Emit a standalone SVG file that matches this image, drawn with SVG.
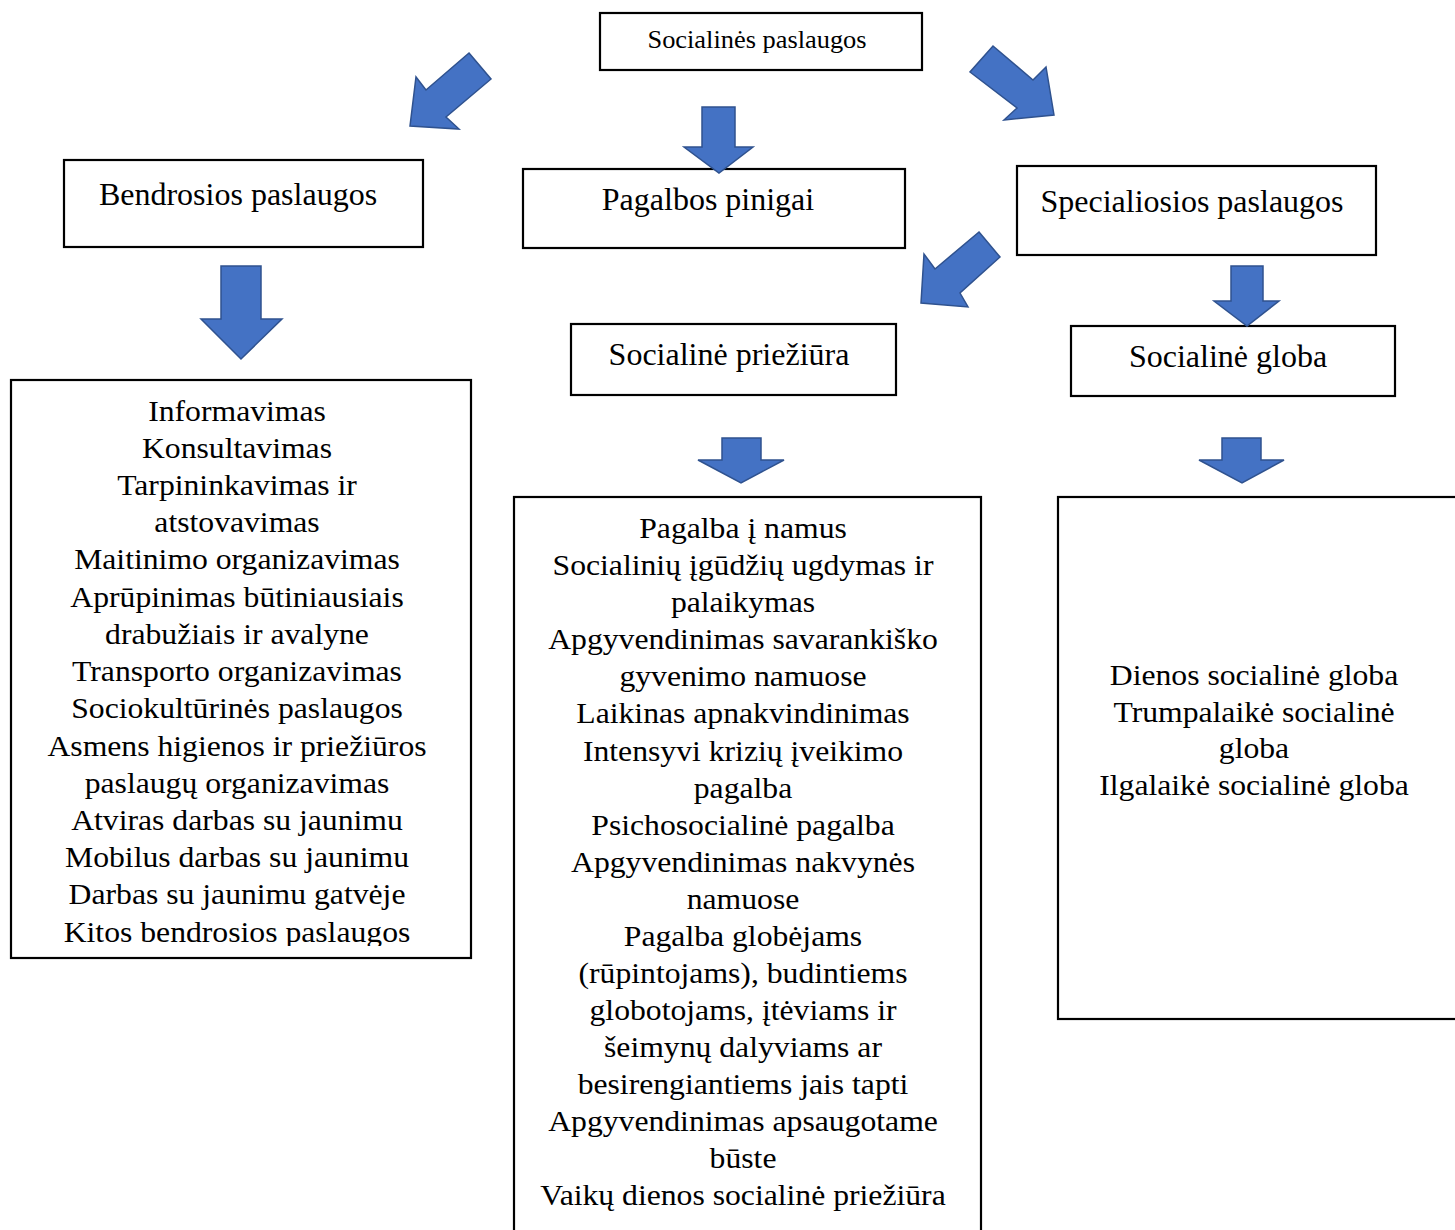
<svg xmlns="http://www.w3.org/2000/svg" width="1455" height="1230" viewBox="0 0 1455 1230">
<style>
.box{fill:#fff;stroke:#000;stroke-width:2.2}
.arr{fill:#4472C4;stroke:#2F528F;stroke-width:1.5;stroke-linejoin:miter}
text{font-family:"Liberation Serif","Times New Roman",serif;fill:#000;text-anchor:middle}
.t{font-size:32px}
.l{font-size:30px}
</style>
<defs>
<clipPath id="clipLeft"><rect x="0" y="380" width="480" height="566"/></clipPath>
</defs>
<rect width="1455" height="1230" fill="#fff"/>

<g id="n-root">
<rect class="box" x="600" y="13" width="322" height="57"/>
<g transform="translate(757 0) scale(1.056 1)"><text x="0" y="48" style="font-size:25px">Socialinės paslaugos</text></g>
</g>

<g id="n-bendrosios">
<rect class="box" x="64" y="160" width="359" height="87"/>
<text class="t" x="238" y="205">Bendrosios paslaugos</text>
</g>

<g id="n-pinigai">
<rect class="box" x="523" y="169" width="382" height="79"/>
<text class="t" x="708" y="210">Pagalbos pinigai</text>
</g>

<g id="n-specialiosios">
<rect class="box" x="1017" y="166" width="359" height="89"/>
<text class="t" x="1192" y="212">Specialiosios paslaugos</text>
</g>

<g id="n-prieziura">
<rect class="box" x="571" y="324" width="325" height="71"/>
<text class="t" x="729" y="365">Socialinė priežiūra</text>
</g>

<g id="n-globa">
<rect class="box" x="1071" y="326" width="324" height="70"/>
<text class="t" x="1228" y="367">Socialinė globa</text>
</g>

<g id="n-list-bendrosios">
<rect class="box" x="11" y="380" width="460" height="578"/>
<g clip-path="url(#clipLeft)">
<g transform="translate(237 0) scale(1.056 1)" class="l">
<text class="l" x="0" y="420.7">Informavimas</text>
<text class="l" x="0" y="457.9">Konsultavimas</text>
<text class="l" x="0" y="495.1">Tarpininkavimas ir</text>
<text class="l" x="0" y="532.3">atstovavimas</text>
<text class="l" x="0" y="569.5">Maitinimo organizavimas</text>
<text class="l" x="0" y="606.8">Aprūpinimas būtiniausiais</text>
<text class="l" x="0" y="644.0">drabužiais ir avalyne</text>
<text class="l" x="0" y="681.2">Transporto organizavimas</text>
<text class="l" x="0" y="718.4">Sociokultūrinės paslaugos</text>
<text class="l" x="0" y="755.6">Asmens higienos ir priežiūros</text>
<text class="l" x="0" y="792.8">paslaugų organizavimas</text>
<text class="l" x="0" y="830.0">Atviras darbas su jaunimu</text>
<text class="l" x="0" y="867.2">Mobilus darbas su jaunimu</text>
<text class="l" x="0" y="904.5">Darbas su jaunimu gatvėje</text>
<text class="l" x="0" y="941.7">Kitos bendrosios paslaugos</text>
</g>
</g>
</g>

<g id="n-list-prieziura">
<rect class="box" x="514" y="497" width="467" height="800"/>
<g transform="translate(743 0) scale(1.056 1)">
<text class="l" x="0" y="538.3">Pagalba į namus</text>
<text class="l" x="0" y="575.3">Socialinių įgūdžių ugdymas ir</text>
<text class="l" x="0" y="612.4">palaikymas</text>
<text class="l" x="0" y="649.4">Apgyvendinimas savarankiško</text>
<text class="l" x="0" y="686.5">gyvenimo namuose</text>
<text class="l" x="0" y="723.5">Laikinas apnakvindinimas</text>
<text class="l" x="0" y="760.6">Intensyvi krizių įveikimo</text>
<text class="l" x="0" y="797.6">pagalba</text>
<text class="l" x="0" y="834.7">Psichosocialinė pagalba</text>
<text class="l" x="0" y="871.7">Apgyvendinimas nakvynės</text>
<text class="l" x="0" y="908.8">namuose</text>
<text class="l" x="0" y="945.8">Pagalba globėjams</text>
<text class="l" x="0" y="982.9">(rūpintojams), budintiems</text>
<text class="l" x="0" y="1019.9">globotojams, įtėviams ir</text>
<text class="l" x="0" y="1057.0">šeimynų dalyviams ar</text>
<text class="l" x="0" y="1094.0">besirengiantiems jais tapti</text>
<text class="l" x="0" y="1131.1">Apgyvendinimas apsaugotame</text>
<text class="l" x="0" y="1168.1">būste</text>
<text class="l" x="0" y="1205.2">Vaikų dienos socialinė priežiūra</text>
</g>
</g>

<g id="n-list-globa">
<rect class="box" x="1058" y="497" width="450" height="522"/>
<g transform="translate(1254 0) scale(1.056 1)">
<text class="l" x="0" y="685">Dienos socialinė globa</text>
<text class="l" x="0" y="721.7">Trumpalaikė socialinė</text>
<text class="l" x="0" y="758.4">globa</text>
<text class="l" x="0" y="795">Ilgalaikė socialinė globa</text>
</g>
</g>

<g id="connectors">
<polygon class="arr" points="469,53 491,79 446,117 459,129 410,126 416,77 426,90"/>
<polygon class="arr" points="702,107 735,107 735,147 753,147 719,173 684,147 702,147"/>
<polygon class="arr" points="993,46 1033,80 1046,67 1054,115 1004,120 1017,108 970,72"/>
<polygon class="arr" points="221,266 261,266 261,319 282,319 241,359 201,319 221,319"/>
<polygon class="arr" points="979,232 1000,257 960,293 968,307 921,303 924,254 935,269"/>
<polygon class="arr" points="1231,266 1263,266 1263,301 1279,301 1247,326 1214,301 1231,301"/>
<polygon class="arr" points="722,438 761,438 761,460 784,460 741,483 698,460 722,460"/>
<polygon class="arr" points="1222,438 1261,438 1261,460 1284,460 1242,483 1199,460 1222,460"/>
</g>
</svg>
